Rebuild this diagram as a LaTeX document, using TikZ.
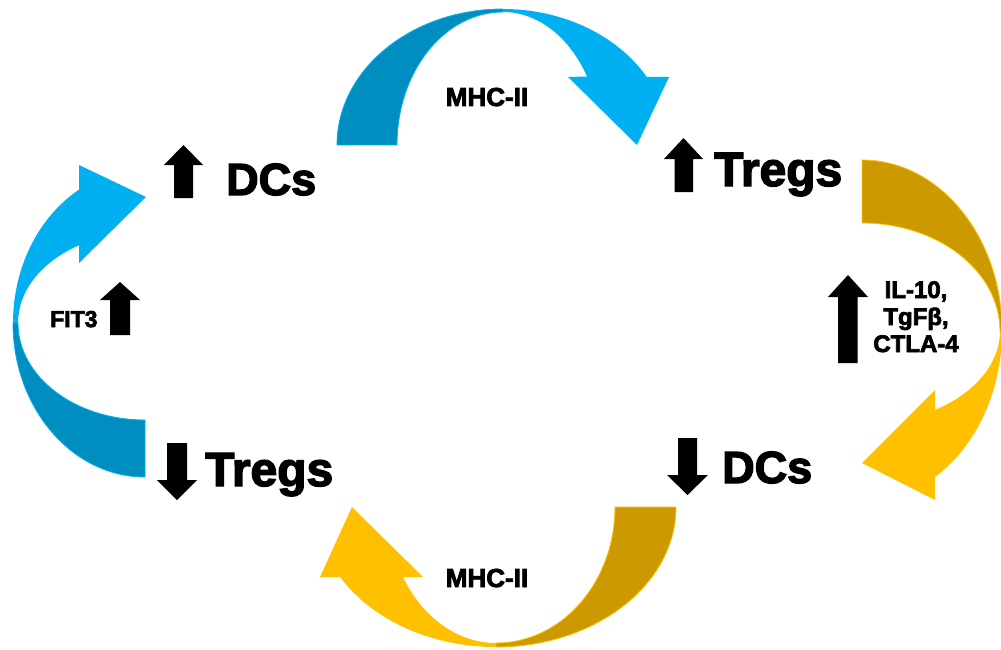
\documentclass[tikz,border=0pt]{standalone}
\usepackage{fontspec}
\setmainfont{Liberation Sans}
\newfontfamily\heavy{Liberation Sans}[BoldFeatures={FakeBold=3}]
\definecolor{bluel}{RGB}{0,176,240}
\definecolor{blued}{RGB}{0,141,192}
\definecolor{goldl}{RGB}{255,192,0}
\definecolor{goldd}{RGB}{204,154,0}
\begin{document}
\begin{tikzpicture}[x=1pt,y=-1pt,
  big/.style={font=\heavy\bfseries\fontsize{45}{54}\selectfont, inner sep=0pt, anchor=base west},
  bigt/.style={big, font=\heavy\bfseries\fontsize{48}{56}\selectfont},
  small/.style={font=\heavy\bfseries\fontsize{24}{27}\selectfont, inner sep=0pt},
  blk/.style={fill=black},
  bdark/.style={fill=blued, draw=bluel, line width=0.8pt},
  blight/.style={fill=bluel},
  gdark/.style={fill=goldd, draw=goldl, line width=0.8pt},
  glight/.style={fill=goldl}]
\useasboundingbox (0,0) rectangle (1001,650);
\clip (0,0) rectangle (1001,650);
% ---- top arrow (blue)
\fill[bdark] ([shift={(503,145)}]180:166 and 136) arc[start angle=180,end angle=270,x radius=166,y radius=136]
  -- ([shift={(503,145)}]270:106 and 133) arc[start angle=270,end angle=180,x radius=106,y radius=133] -- cycle;
\fill[blight] ([shift={(503,145)}]270:166 and 136) arc[start angle=270,end angle=330,x radius=166,y radius=136]
  -- (669,77) -- (637,145) -- (568,77)
  -- ([shift={(503,145)}]329:98 and 133) arc[start angle=329,end angle=270,x radius=98,y radius=133] -- cycle;
% ---- left arrow (blue)
\fill[bdark] ([shift={(145,323)}]90:132 and 154) arc[start angle=90,end angle=180,x radius=132,y radius=154]
  -- ([shift={(145,323)}]180:127 and 97) arc[start angle=180,end angle=90,x radius=127,y radius=97] -- cycle;
\fill[blight] ([shift={(145,323)}]180:132 and 154) arc[start angle=180,end angle=240,x radius=132,y radius=154]
  -- (79,165) -- (146,197) -- (79,263)
  -- ([shift={(145,323)}]238.7:127 and 91) arc[start angle=238.7,end angle=180,x radius=127,y radius=91] -- cycle;
% ---- right arrow (gold)
\fill[gdark] ([shift={(862,331)}]270:140 and 171) arc[start angle=270,end angle=360,x radius=140,y radius=171]
  -- ([shift={(862,331)}]360:138 and 108) arc[start angle=360,end angle=270,x radius=138,y radius=108] -- cycle;
\fill[glight] ([shift={(862,331)}]0:140 and 171) arc[start angle=0,end angle=58.6,x radius=140,y radius=171]
  -- (935,500) -- (862,463) -- (935,390)
  -- ([shift={(862,331)}]58:138 and 93) arc[start angle=58,end angle=0,x radius=138,y radius=93] -- cycle;
% ---- bottom arrow (gold)
\fill[gdark] ([shift={(496,507)}]0:180 and 140) arc[start angle=0,end angle=90,x radius=180,y radius=140]
  -- ([shift={(496,507)}]90:119 and 136) arc[start angle=90,end angle=0,x radius=119,y radius=136] -- cycle;
\fill[glight] ([shift={(496,507)}]90:180 and 140) arc[start angle=90,end angle=150,x radius=180,y radius=140]
  -- (320,577) -- (352,507) -- (423,577)
  -- ([shift={(496,507)}]149:108.5 and 136) arc[start angle=149,end angle=90,x radius=108.5,y radius=136] -- cycle;
% ---- black block arrows
\fill[blk] (164,165) -- (183.5,145) -- (203,165) -- (193,165) -- (193,198) -- (174,198) -- (174,165) -- cycle;
\fill[blk] (664,159) -- (683.5,138) -- (703,159) -- (693,159) -- (693,192) -- (674.5,192) -- (674.5,159) -- cycle;
\fill[blk] (100,300) -- (120,282) -- (140,300) -- (130,300) -- (130,335) -- (110,335) -- (110,300) -- cycle;
\fill[blk] (828,297) -- (848,275) -- (868,297) -- (857.5,297) -- (857.5,363) -- (838,363) -- (838,297) -- cycle;
\fill[blk] (157,480) -- (177,500) -- (197,480) -- (187,480) -- (187,443) -- (167,443) -- (167,480) -- cycle;
\fill[blk] (667,475) -- (687.5,495) -- (708,475) -- (697,475) -- (697,438) -- (678,438) -- (678,475) -- cycle;
% ---- texts
\node[big] (dc1) at (226,195) {DCs};
\node[bigt] (tr1) at (714,186) {Tregs};
\node[bigt] (tr2) at (205,486) {Tregs};
\node[big] (dc2) at (722,483) {DCs};
\node[small, anchor=base, font=\heavy\bfseries\fontsize{26}{30}\selectfont] (m1) at (487,106) {MHC-II};
\node[small, anchor=base, font=\heavy\bfseries\fontsize{26}{30}\selectfont] (m2) at (487,587) {MHC-II};
\node[small, anchor=base west, font=\heavy\bfseries\fontsize{23}{27}\selectfont] (f) at (50,327) {FIT3};
\node[small, anchor=base, align=center] (il) at (916,352) {IL-10,\\TgFβ,\\CTLA-4};
\end{tikzpicture}
\end{document}
